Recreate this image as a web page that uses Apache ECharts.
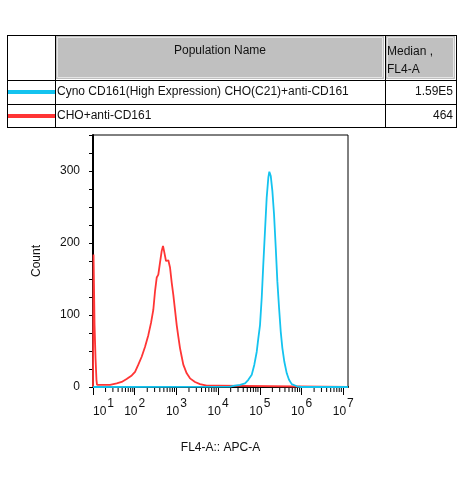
<!DOCTYPE html>
<html lang="en">
<head>
    <meta charset="UTF-8">
    <title>FL4-A histogram</title>
    <script src="https://cdn.jsdelivr.net/npm/echarts@6/dist/echarts.min.js"></script>
    <style>
        html, body { margin: 0; padding: 0; background: #fff; }
        #chart { width: 463px; height: 480px; }
    </style>
</head>
<body>
<div id="chart"></div>
<script>
    // table contents
    var populations = ['Cyno CD161(High Expression) CHO(C21)+anti-CD161', 'CHO+anti-CD161'];
    var medians = ['1.59E5', '464'];
    var popColors = ['#14c3ef', '#ff3535'];

    // histogram (FL4-A value, count)
    var redX = [10, 10.3, 10.9, 11.5, 12.1, 12.5, 25.6, 28, 37, 48.7, 64, 85, 102, 122, 147, 177, 212, 246, 279, 307,
        337, 368, 405, 444, 477, 513, 563, 640, 703, 771, 843, 925, 1016, 1111, 1219, 1340, 1463, 1765, 2118,
        2792, 3681, 5330, 9950, 10500, 13000000];
    var redY = [0, 184, 86, 40, 10, 3, 3, 4, 5, 7, 11, 16, 21, 31, 42, 56, 72, 89, 107, 133,
        152, 156, 173, 189, 196, 187, 175, 176, 166, 145, 128, 107, 86, 70, 54, 42, 31, 19, 12,
        7, 4, 2, 2, 0, 0];
    var cyanX = [10, 19300, 25400, 33500, 44200, 53000, 64000, 73800, 84300, 92100, 101000, 111000, 121000,
        133000, 146000, 160000, 169000, 183000, 200000, 219000, 241000, 263000, 289000, 317000, 347000,
        387000, 442000, 501000, 582000, 768000, 1000000, 13000000];
    var cyanY = [0, 0.5, 2, 3, 5, 10, 17, 31, 49, 68, 86, 124, 170,
        217, 263, 291, 299, 293, 272, 240, 193, 147, 110, 77, 54,
        35, 19, 10, 4, 1, 0, 0];

    // axis ticks
    var decades = [1, 2, 3, 4, 5, 6];
    var minorSteps = [2, 3, 4, 5, 6, 7, 8, 9];
    var yLabels = [0, 100, 200, 300];

    function pairs(xs, ys) {
        var out = [];
        for (var i = 0; i < xs.length; i++) out.push([xs[i], ys[i]]);
        return out;
    }

    var minorTicks = [];
    decades.forEach(function (d) {
        minorSteps.forEach(function (k) { minorTicks.push([k * Math.pow(10, d), 0]); });
    });

    // table drawn with graphic elements
    var L = 7, R = 456, T = 35, B = 127, C1 = 55, C2 = 385, R1 = 80, R2 = 104;
    var font = '12px "Liberation Sans", Arial, sans-serif';
    var g = [];
    function hline(y, x1, x2) {
        g.push({type: 'line', shape: {x1: x1, y1: y, x2: x2, y2: y}, style: {stroke: '#000', lineWidth: 1}, silent: true});
    }
    function vline(x, y1, y2) {
        g.push({type: 'line', shape: {x1: x, y1: y1, x2: x, y2: y2}, style: {stroke: '#000', lineWidth: 1}, silent: true});
    }
    // gray header cells
    [[C1, C2], [C2, R]].forEach(function (c) {
        g.push({type: 'rect', shape: {x: c[0] + 1, y: T + 1, width: c[1] - c[0] - 2, height: R1 - T - 2},
            style: {fill: '#c0c0c0'}, silent: true});
        g.push({type: 'rect', shape: {x: c[0] + 2.5, y: T + 2.5, width: c[1] - c[0] - 5, height: R1 - T - 5},
            style: {fill: 'none', stroke: '#e4e4e4', lineWidth: 1}, silent: true});
    });
    hline(T + 0.5, L, R); hline(B + 0.5, L, R); hline(R1 + 0.5, L, R); hline(R2 + 0.5, L, R);
    vline(L + 0.5, T, B + 1); vline(R + 0.5, T, B + 1); vline(C1 + 0.5, T, B + 1); vline(C2 + 0.5, T, B + 1);
    g.push({type: 'text', x: (C1 + C2) / 2, y: 51, silent: true,
        style: {text: 'Population Name', font: font, fill: '#111', align: 'center', verticalAlign: 'middle'}});
    g.push({type: 'text', x: C2 + 2, y: 52, silent: true,
        style: {text: 'Median ,', font: font, fill: '#111', align: 'left', verticalAlign: 'middle'}});
    g.push({type: 'text', x: C2 + 2, y: 70, silent: true,
        style: {text: 'FL4-A', font: font, fill: '#111', align: 'left', verticalAlign: 'middle'}});
    var rowY = [92, 116];
    populations.forEach(function (p, i) {
        g.push({type: 'line', shape: {x1: L + 1, y1: rowY[i], x2: C1, y2: rowY[i]},
            style: {stroke: popColors[i], lineWidth: 4}, silent: true});
        g.push({type: 'text', x: C1 + 2, y: rowY[i], silent: true,
            style: {text: p, font: font, fill: '#111', align: 'left', verticalAlign: 'middle'}});
        g.push({type: 'text', x: R - 3, y: rowY[i], silent: true,
            style: {text: medians[i], font: font, fill: '#111', align: 'right', verticalAlign: 'middle'}});
    });

    var chart = echarts.init(document.getElementById('chart'));
    var option = {
        animation: false,
        backgroundColor: '#fff',
        textStyle: {fontFamily: '"Liberation Sans", Arial, sans-serif'},
        graphic: g,
        grid: {left: 93, right: 115, top: 135, bottom: 93, show: true, borderColor: '#000', borderWidth: 1},
        xAxis: {
            type: 'log',
            logBase: 10,
            min: 10,
            max: 13000000,
            interval: 1,
            name: 'FL4-A:: APC-A',
            nameLocation: 'middle',
            nameGap: 55,
            nameTextStyle: {color: '#111', fontSize: 12},
            axisLine: {lineStyle: {color: '#000', width: 2}},
            axisTick: {length: 8, lineStyle: {color: '#000', width: 1}},
            splitLine: {show: false},
            axisLabel: {
                margin: 11,
                showMaxLabel: false,
                alignMinLabel: 'left',
                color: '#111',
                formatter: function (v) {
                    var e = Math.log10(v);
                    if (Math.abs(e - Math.round(e)) > 0.01) return '';
                    return '{b|10}{s|' + Math.round(e) + '}';
                },
                rich: {
                    b: {fontSize: 12, color: '#111', lineHeight: 20, verticalAlign: 'bottom', padding: [0, 1, 0, 0]},
                    s: {fontSize: 12, color: '#111', lineHeight: 20, verticalAlign: 'top'}
                }
            }
        },
        yAxis: {
            type: 'value',
            min: 0,
            max: 350,
            interval: 25,
            name: 'Count',
            nameLocation: 'middle',
            nameGap: 50,
            nameRotate: 90,
            nameTextStyle: {color: '#111', fontSize: 12},
            axisLine: {show: true, lineStyle: {color: '#000', width: 2}},
            axisTick: {show: true, length: 4, lineStyle: {color: '#000', width: 1}},
            splitLine: {show: false},
            axisLabel: {
                margin: 13,
                fontSize: 12,
                color: '#111',
                formatter: function (v) { return yLabels.indexOf(v) >= 0 ? String(v) : ''; }
            }
        },
        series: [
            {
                name: populations[1],
                type: 'line',
                data: pairs(redX, redY),
                symbol: 'none',
                lineStyle: {color: popColors[1], width: 1.8},
                z: 3
            },
            {
                name: populations[0],
                type: 'line',
                data: pairs(cyanX, cyanY),
                symbol: 'none',
                lineStyle: {color: popColors[0], width: 1.8},
                z: 4
            },
            {
                type: 'custom',
                silent: true,
                clip: false,
                data: minorTicks,
                renderItem: function (params, api) {
                    var p = api.coord([api.value(0), 0]);
                    return {
                        type: 'line',
                        shape: {x1: p[0], y1: p[1] + 1, x2: p[0], y2: p[1] + 5},
                        style: {stroke: '#000', lineWidth: 1}
                    };
                },
                z: 5
            }
        ]
    };
    chart.setOption(option);
</script>
</body>
</html>
